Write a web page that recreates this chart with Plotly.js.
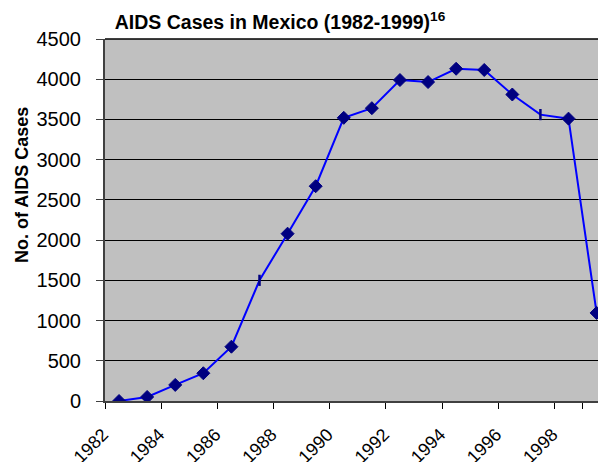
<!DOCTYPE html>
<html>
<head>
<meta charset="utf-8">
<script src="https://cdn.plot.ly/plotly-3.0.1.min.js"></script>
<style>html,body{margin:0;padding:0;background:#fff;}#chart{width:598px;height:462px;}</style>
</head>
<body>
<div id="chart"></div>
<script>
// Data
const years = ['1982','1983','1984','1985','1986','1987','1988','1989','1990','1991','1992','1993','1994','1995','1996','1997','1998','1999'];
const cases = [0, 50, 200, 345, 675, 1500, 2080, 2670, 3520, 3640, 3990, 3965, 4130, 4115, 3810, 3560, 3510, 1095];
const tickLabels = ['1982','1984','1986','1988','1990','1992','1994','1996','1998'];
const yTicks = [0, 500, 1000, 1500, 2000, 2500, 3000, 3500, 4000, 4500];

// Styling: two points use a vertical-dash marker in the reference
const dashYears = ['1987', '1997'];
const symbols = years.map(y => dashYears.includes(y) ? 'line-ns' : 'diamond');
const msizes = years.map(y => dashYears.includes(y) ? 8 : 10);
const mlw = years.map(y => dashYears.includes(y) ? 2.5 : 1);

const trace = {
  type: 'scatter',
  mode: 'lines+markers',
  x: years,
  y: cases,
  line: {color: '#0000ff', width: 2},
  marker: {
    symbol: symbols,
    size: msizes,
    opacity: 1,
    color: '#000080',
    line: {color: '#000080', width: mlw}
  },
  cliponaxis: true,
  hoverinfo: 'skip'
};

const layout = {
  width: 598,
  height: 462,
  margin: {l: 105, r: 0, t: 39, b: 61},
  paper_bgcolor: '#ffffff',
  plot_bgcolor: '#c0c0c0',
  showlegend: false,
  font: {family: 'Liberation Sans, Arial, sans-serif', color: '#000'},
  title: {
    text: '<b>AIDS Cases in Mexico (1982-1999)<sup>16</sup></b>',
    font: {size: 19.5, family: 'Liberation Sans, Arial, sans-serif', color: '#000'},
    xref: 'container', x: 280/598, xanchor: 'center',
    yref: 'container', y: 1 - 22/462, yanchor: 'middle'
  },
  xaxis: {
    type: 'category',
    range: [-0.5, 17.05],
    tickmode: 'array',
    tickvals: tickLabels,
    ticktext: tickLabels,
    tickson: 'boundaries',
    ticks: 'outside',
    ticklen: 6,
    tickcolor: '#000',
    tickwidth: 1,
    tickangle: -45,
    tickfont: {size: 18},
    ticklabelstandoff: 14,
    ticklabelshift: -16,
    showgrid: false,
    showline: true,
    linecolor: '#404040',
    linewidth: 2,
    zeroline: false,
    fixedrange: true
  },
  yaxis: {
    range: [0, 4500],
    tickmode: 'array',
    tickvals: yTicks,
    ticktext: yTicks.map(String),
    ticks: 'outside',
    ticklen: 7,
    tickcolor: '#404040',
    tickfont: {size: 20},
    ticklabelstandoff: 11,
    showgrid: true,
    gridcolor: '#000000',
    gridwidth: 1,
    showline: true,
    linecolor: '#404040',
    linewidth: 2,
    zeroline: false,
    fixedrange: true
  },
  annotations: [{
    text: '<b>No. of AIDS Cases</b>',
    textangle: -90,
    font: {size: 18},
    xref: 'paper', yref: 'paper',
    x: (22 - 105) / 493, y: (401 - 185) / 362,
    xanchor: 'center', yanchor: 'middle',
    showarrow: false
  }],
  shapes: [{
    type: 'line', xref: 'paper', yref: 'paper', x0: 0, x1: 1, y0: 1, y1: 1,
    line: {color: '#000', width: 1.5}
  }]
};

Plotly.newPlot('chart', [trace], layout, {staticPlot: true, displayModeBar: false});
</script>
</body>
</html>
